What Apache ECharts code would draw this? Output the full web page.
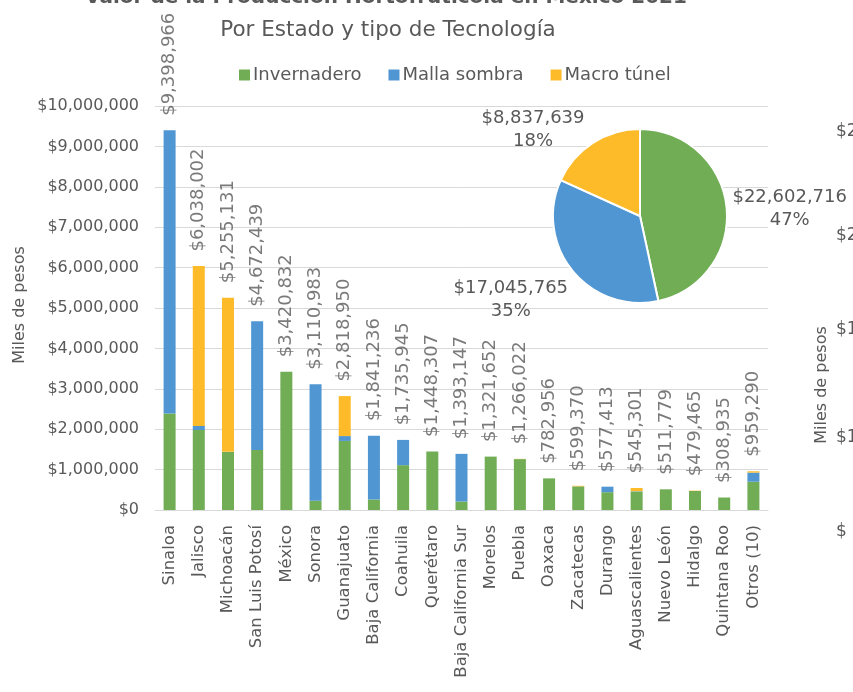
<!DOCTYPE html>
<html lang="es">
<head>
    <meta charset="utf-8">
    <title>Valor de la Producción Hortofrutícola en México 2021</title>
    <script src="https://cdn.jsdelivr.net/npm/echarts@6/dist/echarts.min.js"></script>
    <style>
        html, body { margin: 0; padding: 0; background: #fff; }
        #chart { width: 853px; height: 692px; }
    </style>
</head>
<body>
    <div id="chart"></div>
    <script type="text/javascript">
        var categories = ['Sinaloa', 'Jalisco', 'Michoacán', 'San Luis Potosí', 'México', 'Sonora', 'Guanajuato',
            'Baja California', 'Coahuila', 'Querétaro', 'Baja California Sur', 'Morelos', 'Puebla', 'Oaxaca',
            'Zacatecas', 'Durango', 'Aguascalientes', 'Nuevo León', 'Hidalgo', 'Quintana Roo', 'Otros (10)'];
        // totales (etiquetas sobre las barras)
        var totals = [9398966, 6038002, 5255131, 4672439, 3420832, 3110983, 2818950, 1841236, 1735945, 1448307,
            1393147, 1321652, 1266022, 782956, 599370, 577413, 545301, 511779, 479465, 308935, 959290];
        // por tecnologia
        var invernadero = [2390000, 1980000, 1440000, 1485000, 3420832, 230000, 1710000, 260000, 1110000, 1448307,
            210000, 1321652, 1260000, 782956, 585000, 440000, 455000, 511779, 470000, 308935, 700000];
        var mallaSombra = [7010000, 100000, 0, 3190000, 0, 2880000, 120000, 1580000, 625000, 0,
            1180000, 0, 0, 0, 0, 137000, 10000, 0, 0, 0, 225000];
        var macroTunel = [0, 3960000, 3815000, 0, 0, 0, 990000, 0, 0, 0,
            0, 0, 6000, 0, 14000, 0, 80000, 0, 9000, 0, 34000];
        // pastel
        var pieNames = ['Invernadero', 'Malla sombra', 'Macro túnel'];
        var pieValues = [22602716, 17045765, 8837639];
        var yTicks = { min: 0, max: 10000000, interval: 1000000 };
        // fragmentos de la otra grafica (cortada a la derecha)
        var sideLabels = ['$2', '$2', '$1', '$1', '$'];

        var colors = ['#70ad55', '#5096d2', '#fdbb2a'];
        var gray = '#595959';
        var font = "'DejaVu Sans', sans-serif";

        function money(v) {
            var s = String(Math.round(v));
            return '$' + s.replace(/\B(?=(\d{3})+(?!\d))/g, ',');
        }

        var chart = echarts.init(document.getElementById('chart'));

        var sideY = [132, 236, 330, 438, 532];
        var graphics = [
            { type: 'text', x: 386, y: 8, style: { text: 'Valor de la Producción Hortofrutícola en México 2021', font: "bold 20px " + font, fill: gray, align: 'center', verticalAlign: 'bottom' } },
            { type: 'text', x: 388, y: 30, style: { text: 'Por Estado y tipo de Tecnología', font: "21.5px " + font, fill: gray, align: 'center', verticalAlign: 'middle' } },
            { type: 'text', x: 20, y: 305, rotation: Math.PI / 2, style: { text: 'Miles de pesos', font: "16px " + font, fill: gray, align: 'center', verticalAlign: 'middle' } },
            { type: 'text', x: 822, y: 385, rotation: Math.PI / 2, style: { text: 'Miles de pesos', font: "16px " + font, fill: gray, align: 'center', verticalAlign: 'middle' } }
        ];
        sideLabels.forEach(function (t, i) {
            graphics.push({ type: 'text', x: 836, y: sideY[i], style: { text: t, font: "17px " + font, fill: gray, align: 'left', verticalAlign: 'middle' } });
        });

        // ajuste fino de las etiquetas del pastel
        var pieLabelShift = [[-7, 3], [7, 24], [1, -6]];

        var option = {
            backgroundColor: '#fff',
            color: colors,
            textStyle: { fontFamily: font, color: gray },
            animation: false,
            graphic: graphics,
            legend: {
                data: ['Invernadero', 'Malla sombra', 'Macro túnel'],
                left: 234,
                top: 61,
                itemWidth: 11,
                itemHeight: 11,
                itemGap: 27,
                icon: 'rect',
                textStyle: { fontSize: 18, color: gray, fontFamily: font, padding: [0, 0, 0, -2] }
            },
            grid: {
                left: 155,
                right: 85,
                top: 106,
                bottom: 182,
                containLabel: false
            },
            xAxis: {
                type: 'category',
                data: categories,
                axisLine: { lineStyle: { color: '#d9d9d9' } },
                axisTick: { show: false },
                axisLabel: {
                    rotate: 90,
                    interval: 0,
                    margin: 15,
                    fontSize: 16.5,
                    color: gray,
                    fontFamily: font
                }
            },
            yAxis: {
                type: 'value',
                min: yTicks.min,
                max: yTicks.max,
                interval: yTicks.interval,
                axisLine: { show: false },
                axisTick: { show: false },
                splitLine: { lineStyle: { color: '#d9d9d9' } },
                axisLabel: {
                    margin: 16,
                    fontSize: 16,
                    color: gray,
                    fontFamily: font,
                    formatter: money
                }
            },
            series: [
                { name: 'Invernadero', type: 'bar', stack: 'tec', barWidth: 12, data: invernadero },
                { name: 'Malla sombra', type: 'bar', stack: 'tec', barWidth: 12, data: mallaSombra },
                { name: 'Macro túnel', type: 'bar', stack: 'tec', barWidth: 12, data: macroTunel },
                {
                    name: 'Total', type: 'scatter', data: totals, symbolSize: 1,
                    itemStyle: { color: 'rgba(0,0,0,0)' },
                    silent: true,
                    z: 5,
                    label: {
                        show: true,
                        position: 'top',
                        distance: 14,
                        rotate: 90,
                        align: 'left',
                        verticalAlign: 'middle',
                        fontSize: 18,
                        color: gray,
                        fontFamily: font,
                        formatter: function (p) { return money(p.value); }
                    }
                },
                {
                    name: 'Pastel', type: 'pie',
                    center: [640, 216],
                    radius: 87,
                    startAngle: 90,
                    clockwise: true,
                    avoidLabelOverlap: false,
                    itemStyle: { borderColor: '#fff', borderWidth: 2 },
                    label: {
                        show: true,
                        position: 'outside',
                        bleedMargin: 0,
                        overflow: 'none',
                        color: gray,
                        formatter: function (p) {
                            return '{a|' + money(p.value) + '}\n{a|' + Math.round(p.percent) + '%}';
                        },
                        rich: {
                            a: { align: 'center', fontSize: 18, lineHeight: 23, color: gray, fontFamily: font }
                        }
                    },
                    labelLine: { show: false, length: 8, length2: 0 },
                    labelLayout: function (p) {
                        var d = pieLabelShift[p.dataIndex];
                        return { dx: d[0], dy: d[1] };
                    },
                    data: pieValues.map(function (v, i) { return { name: pieNames[i], value: v }; })
                }
            ]
        };
        chart.setOption(option);
    </script>
</body>
</html>
